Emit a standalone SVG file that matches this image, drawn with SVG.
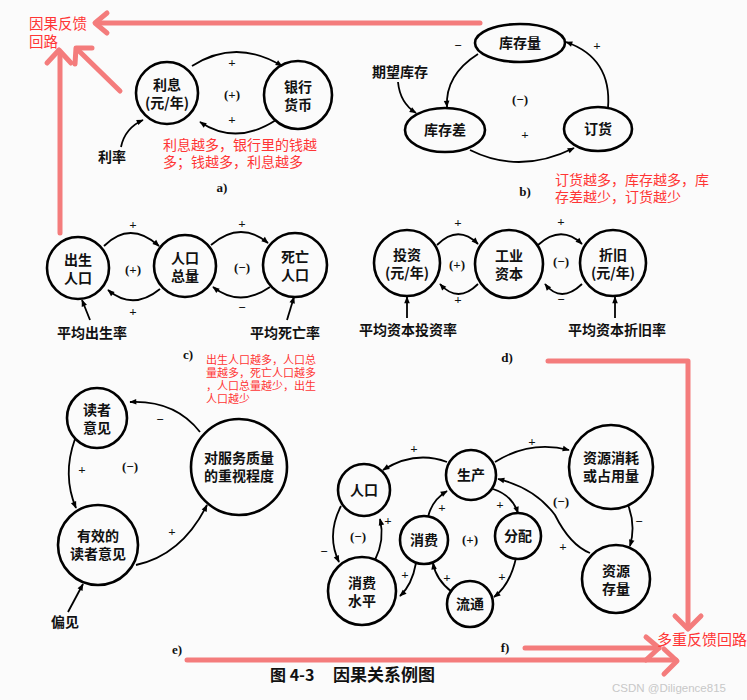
<svg xmlns="http://www.w3.org/2000/svg" width="747" height="700" viewBox="0 0 747 700">
<style>
.bg{fill:#fbfbfb}
.n{fill:none;stroke:#000;stroke-width:2.6}
.t{font-family:"Noto Sans CJK SC","Noto Sans CJK JP",sans-serif;font-size:14px;font-weight:bold;fill:#111;text-anchor:middle}
.s{font-family:"Liberation Serif","Noto Sans CJK SC",serif;font-size:13px;font-weight:bold;fill:#111;text-anchor:middle}
.c{fill:none;stroke:#000;stroke-width:1.8}
.r{fill:none;stroke:#f47c7c;stroke-width:5;stroke-linecap:round;stroke-linejoin:round}
.rt{font-family:"Noto Sans CJK SC",sans-serif;fill:#ff3535}
</style>
<defs>
<marker id="ah" viewBox="0 0 10 10" refX="9" refY="5" markerUnits="userSpaceOnUse" markerWidth="10" markerHeight="7" orient="auto"><path d="M0,1 L10,5 L0,9 z" fill="#000"/></marker>
</defs>
<rect class="bg" width="747" height="700"/>

<!-- red annotation arrows -->
<g id="red-arrows">
<path class="r" d="M480,23 L96,23"/>
<polyline class="r" points="107,13 95,23 107,33"/>
<path class="r" d="M60,233 L60,52"/>
<polyline class="r" points="47,63 59,50 71,63"/>
<path class="r" d="M120,91 L78,50"/>
<polyline class="r" points="92,48 76,48 75,64"/>
<path class="r" d="M548,361 L688,361 L688,628"/>
<polyline class="r" points="675,616 688,629 701,616"/>
<path class="r" d="M187,660 L676,660"/>
<polyline class="r" points="664,649 677,661 664,674"/>
<path class="r" d="M525,648 L659,648"/>
<polyline class="r" points="646,637 659,648 646,660"/>
</g>

<g id="red-notes">
<text class="rt" x="29" y="29" font-size="14.5">因果反馈</text>
<text class="rt" x="29" y="47" font-size="14.5">回路</text>
<text class="rt" x="163" y="150" font-size="14">利息越多，银行里的钱越</text>
<text class="rt" x="163" y="167" font-size="14">多；钱越多，利息越多</text>
<text class="rt" x="555" y="185" font-size="14">订货越多，库存越多，库</text>
<text class="rt" x="555" y="202" font-size="14">存差越少，订货越少</text>
<text class="rt" x="206" y="364" font-size="11">出生人口越多，人口总</text>
<text class="rt" x="206" y="377" font-size="11">量越多，死亡人口越多</text>
<text class="rt" x="206" y="390" font-size="11">，人口总量越少，出生</text>
<text class="rt" x="206" y="403" font-size="11">人口越少</text>
<text class="rt" x="657" y="645" font-size="15">多重反馈回路</text>
</g>

<!-- connectors -->
<g id="connectors">
<!-- a -->
<path class="c" d="M192,66 Q236,38 282,66" marker-end="url(#ah)"/>
<path class="c" d="M276,120 Q236,146 200,122" marker-end="url(#ah)"/>
<path class="c" d="M121,147 Q125,128 143,120" marker-end="url(#ah)"/>
<!-- b -->
<path class="c" d="M478,54 Q445,75 447,107" marker-end="url(#ah)"/>
<path class="c" d="M398,82 Q400,103 416,113" marker-end="url(#ah)"/>
<path class="c" d="M470,150 Q520,175 574,148" marker-end="url(#ah)"/>
<path class="c" d="M608,108 Q612,58 566,42" marker-end="url(#ah)"/>
<!-- c -->
<path class="c" d="M104,246 Q130,220 159,246" marker-end="url(#ah)"/>
<path class="c" d="M160,289 Q133,311 108,290" marker-end="url(#ah)"/>
<path class="c" d="M211,245 Q240,220 268,243" marker-end="url(#ah)"/>
<path class="c" d="M270,287 Q240,308 213,287" marker-end="url(#ah)"/>
<path class="c" d="M90,320 L82,300" marker-end="url(#ah)"/>
<path class="c" d="M287,320 L294,297" marker-end="url(#ah)"/>
<!-- d -->
<path class="c" d="M437,245 Q458,224 478,244" marker-end="url(#ah)"/>
<path class="c" d="M478,284 Q458,304 440,284" marker-end="url(#ah)"/>
<path class="c" d="M538,245 Q561,224 582,244" marker-end="url(#ah)"/>
<path class="c" d="M582,284 Q561,304 545,284" marker-end="url(#ah)"/>
<path class="c" d="M407,318 L407,297" marker-end="url(#ah)"/>
<path class="c" d="M615,318 L615,297" marker-end="url(#ah)"/>
<!-- e -->
<path class="c" d="M200,432 Q175,400 130,402" marker-end="url(#ah)"/>
<path class="c" d="M75,439 Q62,475 76,508" marker-end="url(#ah)"/>
<path class="c" d="M136,565 Q182,555 207,505" marker-end="url(#ah)"/>
<path class="c" d="M68,612 L83,584" marker-end="url(#ah)"/>
<!-- f -->
<path class="c" d="M447,462 Q415,450 383,470" marker-end="url(#ah)"/>
<path class="c" d="M341,506 Q326,535 339,562" marker-end="url(#ah)"/>
<path class="c" d="M375,560 Q385,540 380,519" marker-end="url(#ah)"/>
<path class="c" d="M416,563 Q412,585 400,596" marker-end="url(#ah)"/>
<path class="c" d="M428,517 Q432,500 447,491" marker-end="url(#ah)"/>
<path class="c" d="M493,489 Q512,495 518,513" marker-end="url(#ah)"/>
<path class="c" d="M516,558 Q510,585 494,597" marker-end="url(#ah)"/>
<path class="c" d="M452,592 Q436,580 433,563" marker-end="url(#ah)"/>
<path class="c" d="M495,462 Q530,440 569,450" marker-end="url(#ah)"/>
<path class="c" d="M628,505 Q636,525 630,546" marker-end="url(#ah)"/>
<path class="c" d="M590,553 Q570,545 555,515 Q535,488 498,479" marker-end="url(#ah)"/>
</g>

<!-- signs -->
<g id="signs" class="s">
<text x="232" y="67">+</text><text x="232" y="99">(+)</text><text x="232" y="124">+</text>
<text x="458" y="50">−</text><text x="597" y="50">+</text><text x="520" y="104">(−)</text><text x="525" y="139">+</text>
<text x="133" y="229">+</text><text x="133" y="274">(+)</text><text x="133" y="316">+</text>
<text x="242" y="228">+</text><text x="242" y="272">(−)</text><text x="242" y="312">−</text>
<text x="458" y="227">+</text><text x="457" y="269">(+)</text><text x="458" y="304">+</text>
<text x="561" y="226">+</text><text x="561" y="266">(−)</text><text x="561" y="304">−</text>
<text x="160" y="424">−</text><text x="82" y="474">+</text><text x="130" y="471">(−)</text><text x="172" y="536">+</text>
<text x="414" y="453">+</text><text x="324" y="556">−</text><text x="388" y="525">+</text><text x="358" y="541">(−)</text>
<text x="405" y="579">+</text><text x="442" y="512">+</text><text x="500" y="509">+</text><text x="502" y="581">+</text>
<text x="447" y="582">+</text><text x="470" y="544">(+)</text><text x="532" y="446">+</text><text x="639" y="526">−</text>
<text x="563" y="551">+</text><text x="561" y="506">(−)</text>
<text x="222" y="192">a)</text><text x="525" y="196">b)</text><text x="188" y="359">c)</text>
<text x="507" y="362">d)</text><text x="177" y="654">e)</text><text x="505" y="652">f)</text>
</g>

<!-- nodes -->
<g id="n-lixi"><circle class="n" cx="167" cy="93" r="31"/><text class="t" x="167" y="90">利息</text><text class="t" x="167" y="108">(元/年)</text></g>
<g id="n-yinhang"><circle class="n" cx="298" cy="95" r="34"/><text class="t" x="298" y="92">银行</text><text class="t" x="298" y="110">货币</text></g>
<text class="t" x="112" y="162">利率</text>

<g id="n-kucunliang"><ellipse class="n" cx="520" cy="43" rx="45" ry="19"/><text class="t" x="520" y="48">库存量</text></g>
<g id="n-kucuncha"><ellipse class="n" cx="445" cy="130" rx="40" ry="22"/><text class="t" x="445" y="135">库存差</text></g>
<g id="n-dinghuo"><ellipse class="n" cx="598" cy="129" rx="34" ry="22"/><text class="t" x="598" y="134">订货</text></g>
<text class="t" x="400" y="77">期望库存</text>

<g id="n-chusheng"><circle class="n" cx="78" cy="268" r="31"/><text class="t" x="78" y="265">出生</text><text class="t" x="78" y="283">人口</text></g>
<g id="n-zongliang"><circle class="n" cx="185" cy="266" r="31"/><text class="t" x="185" y="263">人口</text><text class="t" x="185" y="281">总量</text></g>
<g id="n-siwang"><circle class="n" cx="295" cy="265" r="32"/><text class="t" x="295" y="262">死亡</text><text class="t" x="295" y="280">人口</text></g>
<text class="t" x="92" y="338">平均出生率</text>
<text class="t" x="285" y="338">平均死亡率</text>

<g id="n-touzi"><circle class="n" cx="407" cy="263" r="33"/><text class="t" x="407" y="260">投资</text><text class="t" x="407" y="278">(元/年)</text></g>
<g id="n-gongye"><circle class="n" cx="509" cy="264" r="34"/><text class="t" x="509" y="261">工业</text><text class="t" x="509" y="279">资本</text></g>
<g id="n-zhejiu"><circle class="n" cx="613" cy="263" r="33"/><text class="t" x="613" y="260">折旧</text><text class="t" x="613" y="278">(元/年)</text></g>
<text class="t" x="408" y="335">平均资本投资率</text>
<text class="t" x="617" y="335">平均资本折旧率</text>

<g id="n-duzhe"><circle class="n" cx="97" cy="418" r="30"/><text class="t" x="97" y="415">读者</text><text class="t" x="97" y="433">意见</text></g>
<g id="n-zhongshi"><circle class="n" cx="239" cy="467" r="48"/><text class="t" x="239" y="463">对服务质量</text><text class="t" x="239" y="481">的重视程度</text></g>
<g id="n-youxiao"><circle class="n" cx="98" cy="545" r="40"/><text class="t" x="98" y="541">有效的</text><text class="t" x="98" y="559">读者意见</text></g>
<text class="t" x="65" y="627">偏见</text>

<g id="n-shengchan"><circle class="n" cx="471" cy="475" r="25"/><text class="t" x="471" y="480">生产</text></g>
<g id="n-renkou"><circle class="n" cx="364" cy="490" r="26"/><text class="t" x="364" y="495">人口</text></g>
<g id="n-xiaohao"><circle class="n" cx="611" cy="467" r="42"/><text class="t" x="611" y="463">资源消耗</text><text class="t" x="611" y="481">或占用量</text></g>
<g id="n-xiaofei"><circle class="n" cx="424" cy="540" r="24"/><text class="t" x="424" y="545">消费</text></g>
<g id="n-fenpei"><circle class="n" cx="518" cy="536" r="23"/><text class="t" x="518" y="541">分配</text></g>
<g id="n-shuiping"><circle class="n" cx="362" cy="591" r="34"/><text class="t" x="362" y="588">消费</text><text class="t" x="362" y="606">水平</text></g>
<g id="n-liutong"><circle class="n" cx="470" cy="604" r="23"/><text class="t" x="470" y="609">流通</text></g>
<g id="n-cunliang"><circle class="n" cx="616" cy="579" r="34"/><text class="t" x="616" y="576">资源</text><text class="t" x="616" y="594">存量</text></g>

<text x="270" y="681" font-family="Noto Sans CJK SC,sans-serif" font-size="16" font-weight="bold" fill="#111">图 4-3</text>
<text x="333" y="681" font-family="Noto Sans CJK SC,sans-serif" font-size="17" font-weight="bold" fill="#111">因果关系例图</text>
<text x="612" y="692" font-family="Liberation Sans,sans-serif" font-size="11.5" fill="#c8c8c8">CSDN @Diligence815</text>
</svg>
